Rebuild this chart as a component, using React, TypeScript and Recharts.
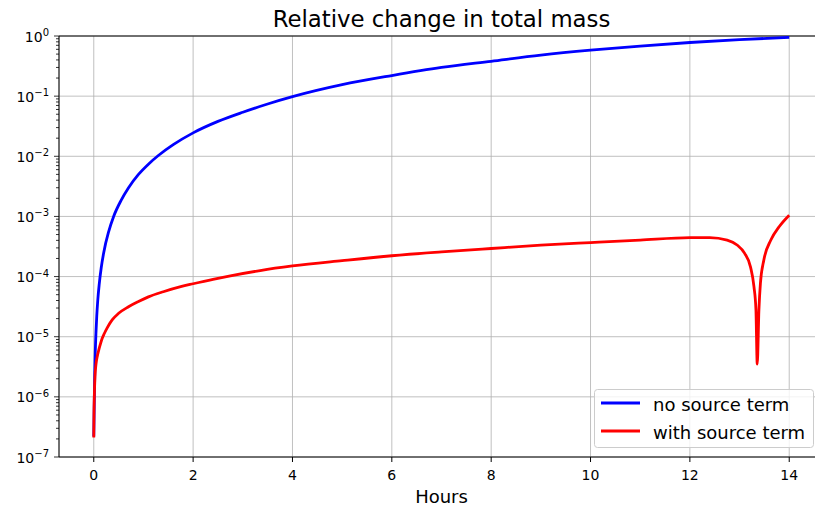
import { LineChart, Line, XAxis, YAxis, CartesianGrid, ReferenceLine, Legend } from "recharts";

// hours / relative change
const blueHours = [
  0, 0.01, 0.02, 0.03, 0.045, 0.06, 0.08, 0.11, 0.15, 0.2, 0.3, 0.4, 0.55, 0.7, 0.9, 1.1, 1.3, 1.6, 2.0, 2.5,
  3.0, 3.5, 4.0, 5, 6, 7, 8, 9, 10, 11, 12, 13, 14,
];
const blueValues = [
  2.2e-7, 8e-7, 2.5e-6, 5.5e-6, 1.2e-5, 2.2e-5, 4e-5, 7.5e-5, 1.4e-4, 2.5e-4, 5.6e-4, 1e-3, 1.85e-3, 3e-3, 5e-3,
  7.4e-3, 1.03e-2, 1.56e-2, 2.45e-2, 3.8e-2, 5.4e-2, 7.4e-2, 9.8e-2, 0.155, 0.22, 0.3, 0.38, 0.48, 0.58, 0.68,
  0.78, 0.87, 0.95,
];

const redHours = [
  0, 0.004, 0.012, 0.025, 0.045, 0.07, 0.1, 0.135, 0.17, 0.21, 0.27, 0.37, 0.5, 0.7, 0.9, 1.1, 1.4, 1.75, 2.0,
  2.4, 2.75, 3.35, 4, 5, 6, 7, 8, 9, 10, 11, 12, 12.4, 12.75, 12.95, 13.1, 13.22, 13.29, 13.33, 13.356, 13.39,
  13.42, 13.49, 13.63, 13.8, 14,
];
const redValues = [
  2.1e-7, 5e-7, 1.1e-6, 2.2e-6, 3.5e-6, 4.7e-6, 6e-6, 7.6e-6, 9.4e-6, 1.12e-5, 1.4e-5, 1.9e-5, 2.45e-5, 3.15e-5,
  3.85e-5, 4.6e-5, 5.6e-5, 6.8e-5, 7.6e-5, 9e-5, 1.03e-4, 1.26e-4, 1.5e-4, 1.84e-4, 2.22e-4, 2.57e-4, 2.93e-4,
  3.33e-4, 3.68e-4, 4.05e-4, 4.43e-4, 4.45e-4, 4.05e-4, 3.35e-4, 2.45e-4, 1.45e-4, 6.8e-5, 2.8e-5, 3.5e-6,
  2.8e-5, 7.7e-5, 1.9e-4, 4.05e-4, 6.8e-4, 1.05e-3,
];

const xTicks = [0, 2, 4, 6, 8, 10, 12, 14];
const yMajorTicks = [1e-7, 1e-6, 1e-5, 1e-4, 1e-3, 1e-2, 1e-1, 1];
const minorSteps = [2, 3, 4, 5, 6, 7, 8, 9];

const yAllTicks = [
  ...yMajorTicks,
  ...yMajorTicks.slice(0, -1).flatMap((d) => minorSteps.map((m) => m * d)),
];

const blueData = blueHours.map((t, i) => ({ t, v: blueValues[i] }));
const redData = redHours.map((t, i) => ({ t, v: redValues[i] }));

const FONT = "DejaVu Sans";

const YTick = (props: any) => {
  const { x, y, payload } = props;
  const major = yMajorTicks.includes(payload.value);
  const len = major ? 5 : 3;
  const exp = Math.round(Math.log10(payload.value));
  return (
    <g>
      <line x1={x - len} x2={x} y1={y} y2={y} stroke="#000" strokeWidth={0.8} />
      {major && (
        <text x={x - 10} y={y + 5.5} textAnchor="end" fontSize={14} fill="#000" fontFamily={FONT}>
          10
          <tspan dy={-5.5} fontSize={10}>
            {exp === 0 ? "0" : "\u2212" + -exp}
          </tspan>
        </text>
      )}
    </g>
  );
};

const renderLegend = (props: any) => {
  const items = props.payload || [];
  return (
    <svg width={220} height={60} style={{ display: "block" }}>
      <rect x={0.5} y={0.5} width={219} height={58} rx={3} fill="#fff" fillOpacity={0.8} stroke="#cccccc" />
      {items.map((it: any, i: number) => (
        <g key={it.value}>
          <line x1={7} x2={46} y1={14 + i * 28} y2={14 + i * 28} stroke={it.color} strokeWidth={2.8} />
          <text x={59} y={21.5 + i * 28} fontSize={18} fill="#000" fontFamily={FONT}>
            {it.value}
          </text>
        </g>
      ))}
    </svg>
  );
};

export default function App() {
  return (
    <div
      style={{
        position: "absolute",
        left: 0,
        top: 0,
        width: 815,
        height: 510,
        overflow: "hidden",
        background: "#fff",
        fontFamily: FONT,
      }}
    >
      <svg width={815} height={34} style={{ position: "absolute", left: 0, top: 0 }}>
        <text x={441.5} y={27} textAnchor="middle" fontSize={22.8} fill="#000" fontFamily={FONT}>
          Relative change in total mass
        </text>
      </svg>
      <LineChart width={830} height={510} margin={{ top: 36, right: 6, bottom: 0, left: 0 }}>
        <CartesianGrid stroke="#b0b0b0" strokeWidth={0.8} horizontalValues={yMajorTicks} />
        <XAxis
          dataKey="t"
          type="number"
          domain={[-0.7, 14.7]}
          ticks={xTicks}
          allowDataOverflow
          interval={0}
          height={53}
          tickSize={5}
          tickMargin={8}
          stroke="#000"
          tick={{ fill: "#000", fontSize: 14, fontFamily: FONT }}
          label={{ value: "Hours", position: "insideBottom", offset: 7, fill: "#000", fontSize: 18, fontFamily: FONT }}
        />
        <YAxis
          type="number"
          scale="log"
          domain={[1e-7, 1]}
          ticks={yAllTicks}
          allowDataOverflow
          interval={0}
          width={59}
          tickLine={false}
          tickSize={0}
          tickMargin={0}
          stroke="#000"
          tick={<YTick />}
        />
        <ReferenceLine y={1} stroke="#000" strokeWidth={1} />
        <Line
          data={blueData}
          dataKey="v"
          name="no source term"
          type="monotone"
          stroke="#0000ff"
          strokeWidth={2.8}
          dot={false}
          isAnimationActive={false}
        />
        <Line
          data={redData}
          dataKey="v"
          name="with source term"
          type="monotone"
          stroke="#ff0000"
          strokeWidth={2.8}
          dot={false}
          isAnimationActive={false}
        />
        <Legend
          layout="vertical"
          align="center"
          verticalAlign="middle"
          wrapperStyle={{ left: 594, top: 389, width: 220 }}
          content={renderLegend}
        />
      </LineChart>
    </div>
  );
}
